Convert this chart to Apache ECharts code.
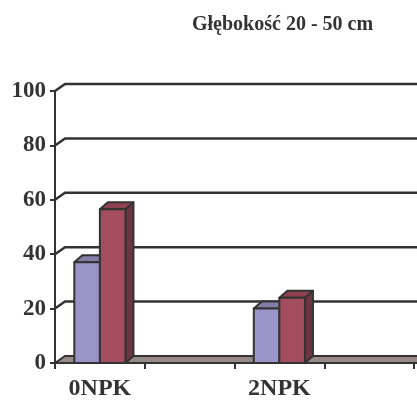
<!DOCTYPE html>
<html>
<head>
<meta charset="utf-8">
<script src="https://cdn.jsdelivr.net/npm/echarts@6/dist/echarts.min.js"></script>
<style>
  html, body { margin: 0; padding: 0; background: #fff; }
  #chart { width: 417px; height: 401px; }
</style>
</head>
<body>
<div id="chart"></div>
<script>
// Categories along the floor (unlabelled slots keep the spacing)
var categories = ['0NPK', '', '2NPK', ''];
// Two series of values per category
var seriesA = [37, null, 20, null];
var seriesB = [56.5, null, 24, null];
// Value axis ticks
var yTicks = [0, 20, 40, 60, 80, 100];

var TITLE = 'Głębokość 20 - 50 cm';
var FONT = '"Liberation Serif", "Times New Roman", serif';
var INK = '#333333';

// depth offsets of the walls and of the columns
var WALL_DX = 10, WALL_DY = 7;
var BAR_DX = 8, BAR_DY = 7;

var colorsA = { front: '#9a94c8', top: '#857ca8', side: '#6f6893' };
var colorsB = { front: '#a34d5e', top: '#8f4051', side: '#6d3442' };

function columnRenderer(slot, colors) {
  return function (params, api) {
    var v = api.value(1);
    if (v == null || isNaN(v)) return;
    var idx = api.value(0);
    var base = api.coord([idx, 0]);
    var topPt = api.coord([idx, v]);
    var band = api.size([1, 0])[0];
    var bw = band * 0.285;
    var x0 = base[0] - bw + slot * bw;
    var x1 = x0 + bw;
    var yb = base[1], yt = topPt[1];
    var st = { stroke: INK, lineWidth: 2, lineJoin: 'round' };
    return {
      type: 'group',
      children: [
        { type: 'polygon', shape: { points: [[x1, yt], [x1 + BAR_DX, yt - BAR_DY], [x1 + BAR_DX, yb - BAR_DY], [x1, yb]] },
          style: Object.assign({ fill: colors.side }, st) },
        { type: 'polygon', shape: { points: [[x0, yt], [x0 + BAR_DX, yt - BAR_DY], [x1 + BAR_DX, yt - BAR_DY], [x1, yt]] },
          style: Object.assign({ fill: colors.top }, st) },
        { type: 'rect', shape: { x: x0, y: yt, width: bw, height: yb - yt },
          style: Object.assign({ fill: colors.front }, st) }
      ]
    };
  };
}

// back wall gridlines and the floor
function wallRenderer(params, api) {
  var v = api.value(1);
  var cs = params.coordSys;
  var y = api.coord([0, v])[1];
  var gx = cs.x;
  var right = cs.x + cs.width + 40;
  if (v === 0) {
    return {
      type: 'group',
      children: [
        { type: 'polygon',
          shape: { points: [[gx, y], [gx + WALL_DX, y - WALL_DY], [right, y - WALL_DY], [right, y]] },
          style: { fill: '#978a86', stroke: INK, lineWidth: 2 } },
        // the value axis continues a little below the floor
        { type: 'line', shape: { x1: gx, y1: y, x2: gx, y2: y + 6 },
          style: { stroke: INK, lineWidth: 2 } }
      ]
    };
  }
  return {
    type: 'polyline',
    shape: { points: [[gx, y], [gx + WALL_DX, y - WALL_DY], [right, y - WALL_DY]] },
    style: { fill: null, stroke: INK, lineWidth: 2.5 }
  };
}

var chart = echarts.init(document.getElementById('chart'), null, { renderer: 'canvas' });
chart.setOption({
  animation: false,
  backgroundColor: '#ffffff',
  title: {
    text: TITLE,
    left: 187, top: 10,
    textStyle: { fontFamily: FONT, fontWeight: 'bold', fontSize: 20, color: '#333' }
  },
  grid: { left: 55, top: 91, width: 359, height: 274 },
  xAxis: {
    type: 'category',
    data: categories,
    boundaryGap: true,
    axisLine: { show: true, lineStyle: { color: INK, width: 2 } },
    axisTick: { show: true, length: 6, interval: 0, lineStyle: { color: INK, width: 2 } },
    axisLabel: { interval: 0, margin: 14, fontFamily: FONT, fontWeight: 'bold', fontSize: 24, color: '#333' },
    splitLine: { show: false }
  },
  yAxis: {
    type: 'value',
    min: 0, max: 100, interval: 20,
    axisLine: { show: true, lineStyle: { color: INK, width: 2 } },
    axisTick: { show: true, length: 5, lineStyle: { color: INK, width: 2 } },
    axisLabel: { margin: 9, fontFamily: FONT, fontWeight: 'bold', fontSize: 23, color: '#333' },
    splitLine: { show: false }
  },
  series: [
    { type: 'custom', renderItem: wallRenderer, data: yTicks.map(function (t) { return [0, t]; }), z: 1, silent: true, clip: false },
    { type: 'custom', renderItem: columnRenderer(0, colorsA), data: seriesA.map(function (v, i) { return [i, v]; }), z: 2, clip: false },
    { type: 'custom', renderItem: columnRenderer(1, colorsB), data: seriesB.map(function (v, i) { return [i, v]; }), z: 3, clip: false }
  ]
});
</script>
</body>
</html>
